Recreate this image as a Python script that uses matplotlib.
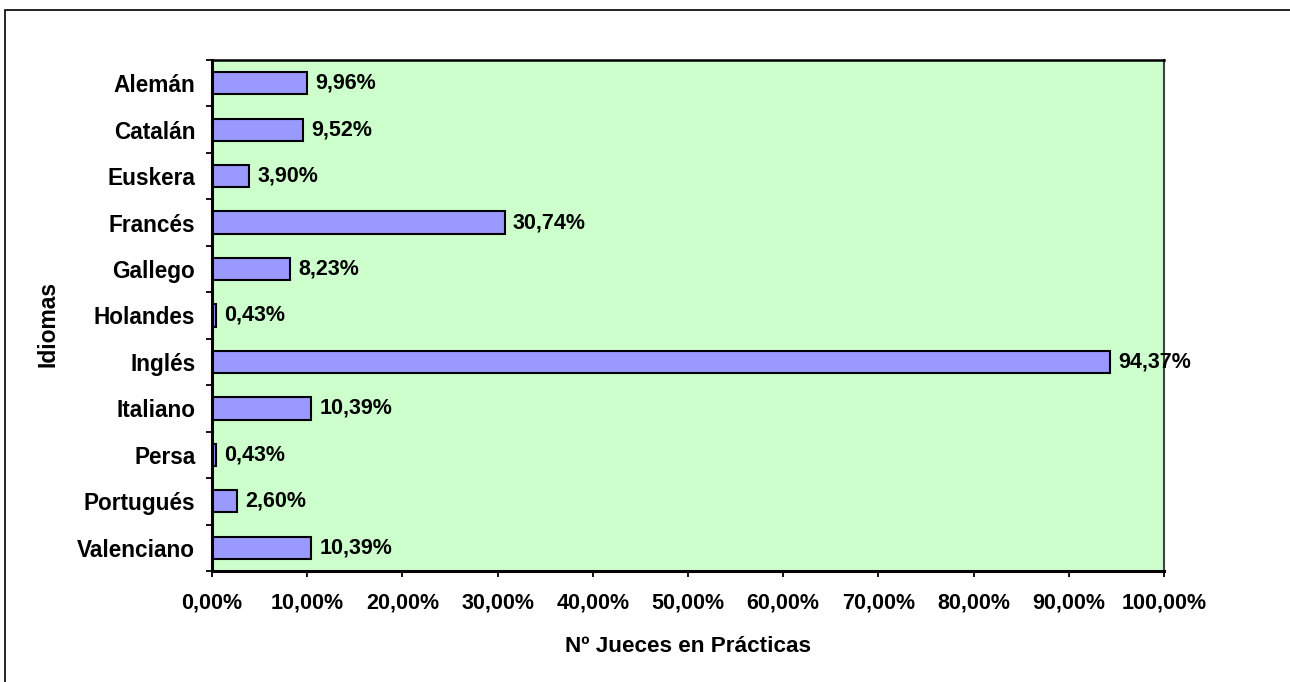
import matplotlib.pyplot as plt
from matplotlib.patches import Rectangle
from matplotlib.ticker import FixedLocator, FuncFormatter

IDIOMAS = ["Alemán", "Catalán", "Euskera", "Francés", "Gallego", "Holandes",
           "Inglés", "Italiano", "Persa", "Portugués", "Valenciano"]
PORCENTAJES = [9.96, 9.52, 3.90, 30.74, 8.23, 0.43, 94.37, 10.39, 0.43, 2.60, 10.39]
X_TICKS = [0, 10, 20, 30, 40, 50, 60, 70, 80, 90, 100]

W, H = 1290, 682
FS = 15.5


def pct(v):
    return f"{v:.2f}".replace(".", ",") + "%"


def main():
    plt.rcParams["font.family"] = ["Liberation Sans", "DejaVu Sans"]
    plt.rcParams["font.weight"] = "bold"
    fig = plt.figure(figsize=(W / 100, H / 100), dpi=100)
    fig.patch.set_facecolor("white")

    # outer chart border (runs off the right and bottom of the image)
    fig.patches.append(Rectangle((4.5 / W, -0.1), 1.2, 1.1 - 9.5 / H,
                                 transform=fig.transFigure, fill=False,
                                 edgecolor="black", linewidth=1.2))

    left, right, top, bottom = 212, 1164, 60, 571
    ax = fig.add_axes([left / W, 1 - bottom / H, (right - left) / W, (bottom - top) / H])
    ax.set_facecolor("#CCFFCC")

    ypos = list(range(len(IDIOMAS)))
    ax.barh(ypos, PORCENTAJES, height=0.48, color="#9999FF",
            edgecolor="black", linewidth=1.5, zorder=2)
    for y, v in zip(ypos, PORCENTAJES):
        ax.annotate(pct(v), xy=(v, y), xytext=(6, 0), textcoords="offset points",
                    va="center", ha="left", fontsize=FS, fontweight="bold",
                    zorder=3, annotation_clip=False)

    ax.set_ylim(len(IDIOMAS) - 0.5, -0.5)
    ax.set_xlim(0, 100)

    ax.yaxis.set_major_locator(FixedLocator(ypos))
    ax.set_yticklabels(IDIOMAS)
    ax.yaxis.set_minor_locator(FixedLocator([i - 0.5 for i in range(len(IDIOMAS) + 1)]))
    ax.tick_params(axis="y", which="major", length=0, pad=12, labelsize=16.3)
    ax.tick_params(axis="y", which="minor", length=4.5, width=1.3, direction="out")

    ax.xaxis.set_major_locator(FixedLocator(X_TICKS))
    ax.xaxis.set_major_formatter(FuncFormatter(lambda v, p: pct(v)))
    ax.tick_params(axis="x", length=4.5, width=1.3, direction="out", pad=11, labelsize=FS)

    for lab in ax.get_xticklabels() + ax.get_yticklabels():
        lab.set_fontweight("bold")

    ax.spines["left"].set_linewidth(2.2)
    ax.spines["bottom"].set_linewidth(2.2)
    ax.spines["top"].set_linewidth(1.8)
    ax.spines["right"].set_linewidth(1.5)
    ax.spines["right"].set_color("#404040")

    fig.text(688 / W, 1 - 647 / H, "Nº Jueces en Prácticas", ha="center", va="center",
             fontsize=16.2, fontweight="bold")
    fig.text(48 / W, 1 - 324 / H, "Idiomas", ha="center", va="center",
             rotation=90, fontsize=16.5, fontweight="bold")

    fig.savefig("out.png", dpi=100)


if __name__ == "__main__":
    main()
